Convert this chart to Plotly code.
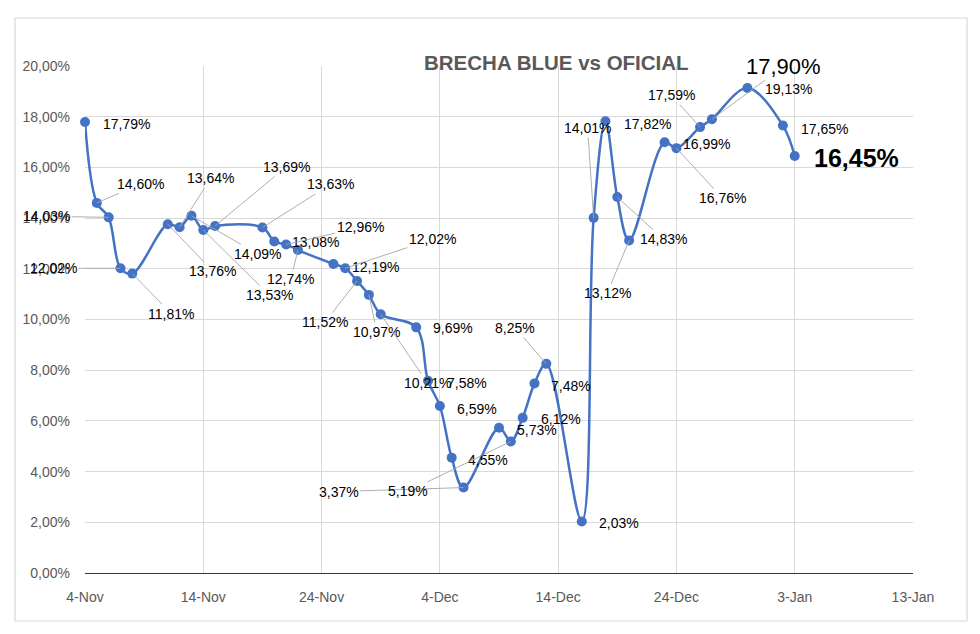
import plotly.graph_objects as go

# ---- data ----
dates = ["2023-11-04", "2023-11-05", "2023-11-06", "2023-11-07", "2023-11-08",
         "2023-11-11", "2023-11-12", "2023-11-13", "2023-11-14", "2023-11-15",
         "2023-11-19", "2023-11-20", "2023-11-21", "2023-11-22", "2023-11-25",
         "2023-11-26", "2023-11-27", "2023-11-28", "2023-11-29", "2023-12-02",
         "2023-12-03", "2023-12-04", "2023-12-05", "2023-12-06", "2023-12-09",
         "2023-12-10", "2023-12-11", "2023-12-12", "2023-12-13", "2023-12-16",
         "2023-12-17", "2023-12-18", "2023-12-19", "2023-12-20", "2023-12-23",
         "2023-12-24", "2023-12-26", "2023-12-27", "2023-12-30", "2024-01-02",
         "2024-01-03"]
brecha = [17.79, 14.60, 14.03, 12.02, 11.81,
          13.76, 13.64, 14.09, 13.53, 13.69,
          13.63, 13.08, 12.96, 12.74, 12.19,
          12.02, 11.52, 10.97, 10.21, 9.69,
          7.58, 6.59, 4.55, 3.37, 5.73,
          5.19, 6.12, 7.48, 8.25, 2.03,
          14.01, 17.82, 14.83, 13.12, 16.99,
          16.76, 17.59, 17.90, 19.13, 17.65,
          16.45]
y_ticks = [0, 2, 4, 6, 8, 10, 12, 14, 16, 18, 20]
y_ticktext = [f"{v:.2f}".replace(".", ",") + "%" for v in y_ticks]
title_text = "BRECHA BLUE vs OFICIAL"

# ---- label placement (pixel offsets from each point) and leader flags ----
label_offsets = [(41, 2), (44, -19), (-62, -1), (-67, 0), (39, 40),
                 (45, 47), (31, -49), (66, 38), (66, 65), (71, -59),
                 (68, -43), (41, 1), (74, -17), (-7, 29), (42, 3),
                 (87, -29), (-32, 41), (8, 37), (47, 69), (37, 1),
                 (39, 2), (37, 3), (36, 2), (-125, 4), (38, 2),
                 (-103, 50), (38, 1), (37, 3), (-31, -36), (37, 1),
                 (-6, -90), (42, 3), (46, 42), (-22, 53), (42, 2),
                 (46, 50), (-29, -32), (72, -53), (41, 1), (42, 3),
                 (62, 2)]
leaders = [0, 1, 1, 1, 1,
           1, 1, 1, 1, 1,
           1, 0, 1, 1, 0,
           1, 1, 1, 1, 0,
           0, 0, 0, 1, 0,
           1, 0, 0, 1, 0,
           1, 0, 1, 1, 0,
           1, 1, 1, 0, 0,
           0]

BLUE = "#4472C4"
FONT = "Liberation Sans"

fig = go.Figure()
fig.add_trace(go.Scatter(
    x=dates, y=brecha, mode="lines+markers",
    line=dict(color=BLUE, width=2.5, shape="spline", smoothing=1.0),
    marker=dict(color=BLUE, size=10),
    cliponaxis=False,
    hoverinfo="x+y", showlegend=False,
))

annotations = []
n = len(brecha)
for i, (d, v) in enumerate(zip(dates, brecha)):
    ax, ay = label_offsets[i]
    txt = f"{v:.2f}".replace(".", ",") + "%"
    font = dict(family=FONT, size=14, color="#000000")
    if i == 37:
        font = dict(family=FONT, size=22, color="#000000")
    if i == n - 1:
        font = dict(family=FONT, size=25, color="#000000")
        txt = "<b>" + txt + "</b>"
    annotations.append(dict(
        x=d, y=v, xref="x", yref="y", text=txt, showarrow=True,
        ax=ax, ay=ay, arrowhead=0, arrowwidth=0.9, standoff=0,
        arrowcolor="#a6a6a6" if leaders[i] else "rgba(0,0,0,0)",
        font=font,
    ))

annotations.append(dict(
    x=0.569, y=1.006, xref="paper", yref="paper", text="<b>" + title_text + "</b>",
    showarrow=False, xanchor="center", yanchor="middle",
    font=dict(family=FONT, size=20.5, color="#595959"),
))

fig.update_layout(
    width=980, height=634,
    margin=dict(l=85, r=67, t=66, b=61),
    paper_bgcolor="white", plot_bgcolor="white",
    annotations=annotations,
    shapes=[dict(type="rect", xref="paper", yref="paper",
                 x0=-0.0845, x1=1.0652, y0=-0.0947, y1=1.0947,
                 line=dict(color="#d9d9d9", width=1.2), layer="below")],
)
fig.update_xaxes(
    type="date", range=["2023-11-04", "2024-01-13"],
    tick0="2023-11-04", dtick=10 * 24 * 3600 * 1000, tickformat="%-d-%b",
    showgrid=True, gridcolor="#d9d9d9", gridwidth=1,
    showline=True, linecolor="#1f3864", linewidth=1.3,
    ticks="", ticklabelstandoff=11,
    tickfont=dict(family=FONT, size=14, color="#595959"),
    zeroline=False, fixedrange=True,
)
fig.update_yaxes(
    range=[0, 20], tickvals=y_ticks, ticktext=y_ticktext,
    showgrid=True, gridcolor="#d9d9d9", gridwidth=1,
    showline=False, zeroline=False, ticks="", ticklabelstandoff=14,
    tickfont=dict(family=FONT, size=14, color="#595959"),
    fixedrange=True,
)

fig.write_html("out.html")
